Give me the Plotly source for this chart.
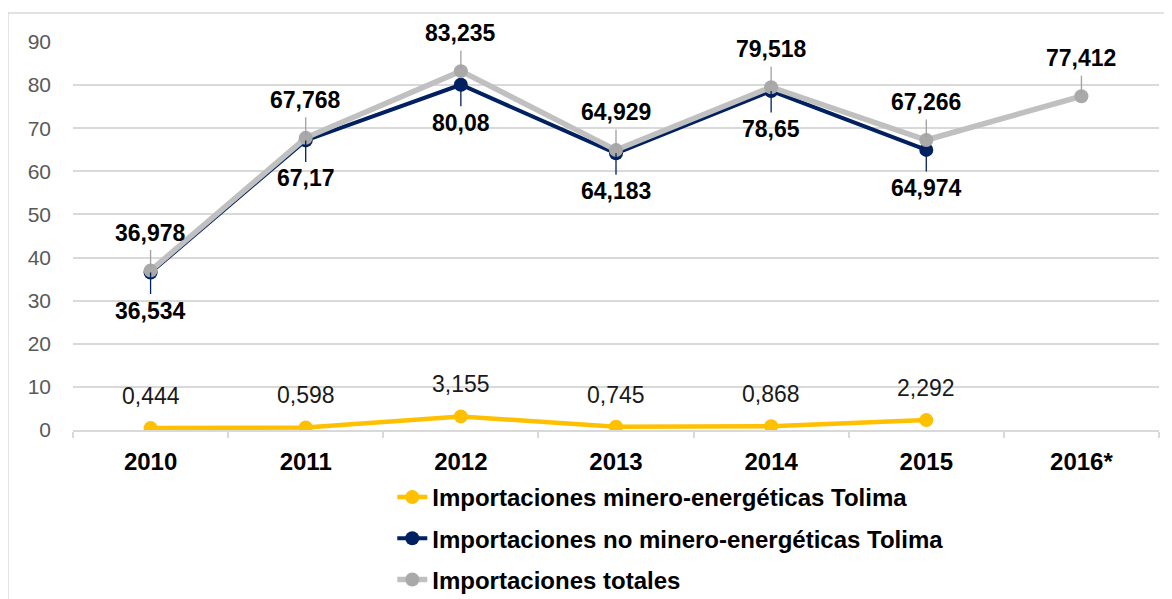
import plotly.graph_objects as go

years = ["2010", "2011", "2012", "2013", "2014", "2015", "2016*"]
minero = [0.444, 0.598, 3.155, 0.745, 0.868, 2.292, None]
no_minero = [36.534, 67.17, 80.08, 64.183, 78.65, 64.974, None]
totales = [36.978, 67.768, 83.235, 64.929, 79.518, 67.266, 77.412]
y_ticks = [0, 10, 20, 30, 40, 50, 60, 70, 80, 90]

names = ["Importaciones minero-energéticas Tolima",
         "Importaciones no minero-energéticas Tolima",
         "Importaciones totales"]

YELLOW = "#FFC000"
NAVY = "#002060"
GRAY_LINE = "#C0C0C0"
GRAY_MARK = "#A9A9A9"
FONT = "Liberation Sans, Arial, sans-serif"


def fmt(v):
    return str(v).replace(".", ",")


fig = go.Figure()
fig.add_trace(go.Scatter(x=years, y=minero, name=names[0], mode="lines+markers",
                         line=dict(color=YELLOW, width=4.5),
                         marker=dict(color=YELLOW, size=14), legendgroup="a"))
fig.add_trace(go.Scatter(x=years, y=no_minero, name=names[1], mode="lines+markers",
                         line=dict(color=NAVY, width=4),
                         marker=dict(color=NAVY, size=14), legendgroup="b"))
fig.add_trace(go.Scatter(x=years, y=totales, name=names[2], mode="lines+markers",
                         line=dict(color=GRAY_LINE, width=5.5),
                         marker=dict(color=GRAY_MARK, size=14), legendgroup="c"))

annotations = []
for i, v in enumerate(totales):
    if v is None:
        continue
    annotations.append(dict(x=i, y=v, xref="x", yref="y",
                            text="<b>" + fmt(v) + "</b>", showarrow=True,
                            ax=0, ay=-38, arrowhead=0, arrowwidth=1.3,
                            arrowcolor="#A0A0A0", standoff=3, borderpad=4,
                            font=dict(family=FONT, size=23, color="#000000")))
for i, v in enumerate(no_minero):
    if v is None:
        continue
    annotations.append(dict(x=i, y=v, xref="x", yref="y",
                            text="<b>" + fmt(v) + "</b>", showarrow=True,
                            ax=0, ay=38, arrowhead=0, arrowwidth=1.3,
                            arrowcolor=NAVY, standoff=0, borderpad=3,
                            font=dict(family=FONT, size=23, color="#000000")))
for i, v in enumerate(minero):
    if v is None:
        continue
    annotations.append(dict(x=i, y=v, xref="x", yref="y",
                            text=fmt(v), showarrow=False, yshift=32,
                            font=dict(family=FONT, size=23, color="#1a1a1a")))

fig.update_layout(
    width=1164, height=591,
    margin=dict(l=65, r=13, t=34, b=169, autoexpand=False),
    paper_bgcolor="white", plot_bgcolor="white",
    font=dict(family=FONT),
    annotations=annotations,
    showlegend=True,
    legend=dict(orientation="v", x=0.294, xanchor="left", y=-0.116, yanchor="top",
                font=dict(family=FONT, size=24, color="#000000", weight="bold"),
                tracegroupgap=7, traceorder="grouped",
                bgcolor="rgba(0,0,0,0)"),
    xaxis=dict(type="category", showgrid=False, showline=True, linecolor="#D9D9D9",
               linewidth=1.5, ticks="outside", tickson="boundaries", ticklen=6,
               tickcolor="#D9D9D9", tickwidth=1.5, ticklabelstandoff=9,
               tickfont=dict(family=FONT, size=24, color="#000000", weight="bold"),
               range=[-0.5, 6.5], zeroline=False, automargin=False),
    yaxis=dict(range=[0, 90], tickvals=y_ticks, showgrid=True, gridcolor="#D9D9D9",
               gridwidth=1.5, zeroline=False, showline=False, ticks="",
               ticklabelstandoff=21, automargin=False,
               tickfont=dict(family=FONT, size=21, color="#595959")),
    shapes=[dict(type="rect", xref="paper", yref="paper",
                 x0=-0.0599, x1=1.03, y0=-0.48, y1=1.0747,
                 line=dict(color="#D9D9D9", width=1.5), layer="below")],
)

fig.write_html("out.html")
